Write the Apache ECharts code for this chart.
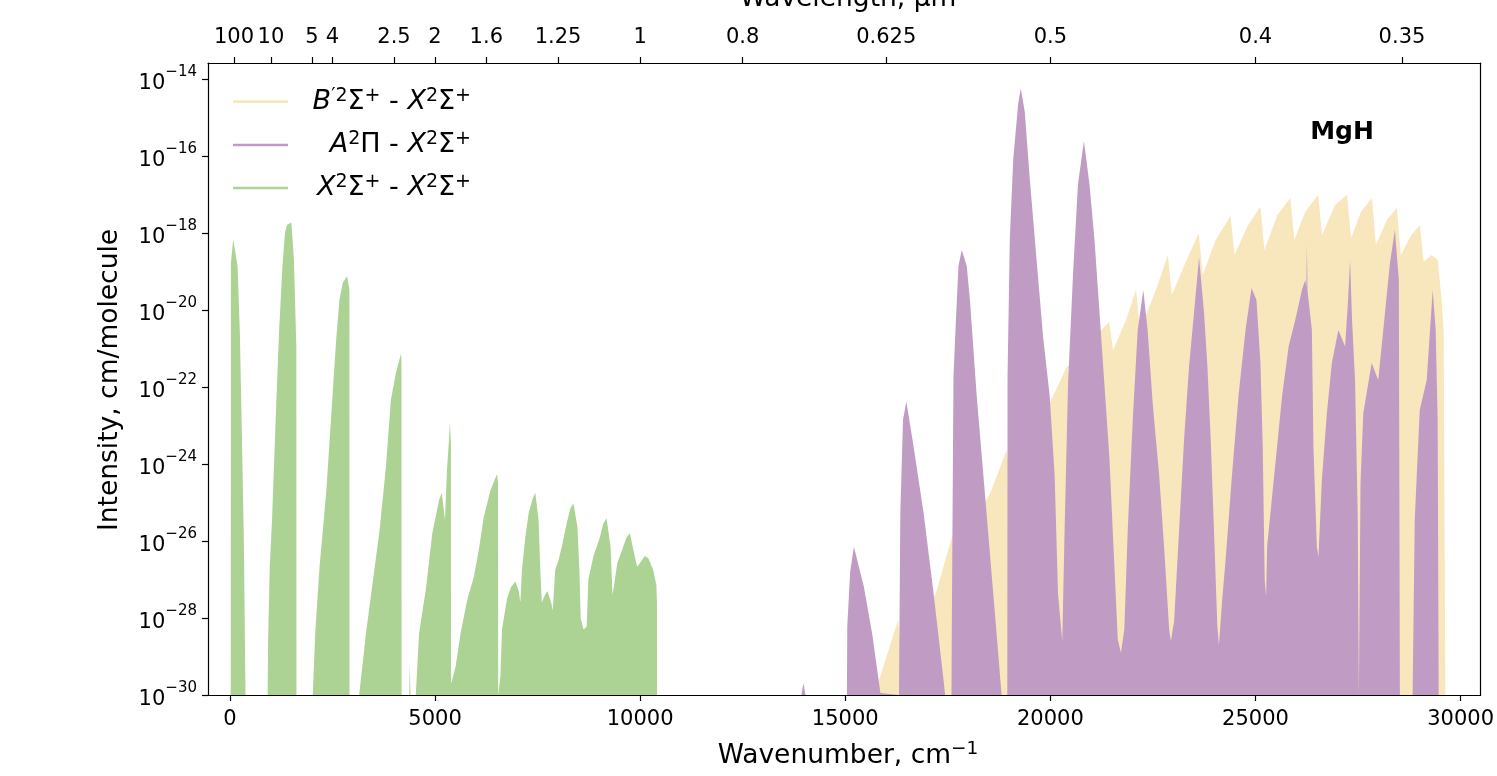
<!DOCTYPE html>
<html><head><meta charset="utf-8">
<script src="https://cdn.jsdelivr.net/npm/echarts@6/dist/echarts.min.js"></script>
<style>html,body{margin:0;padding:0;background:#fff}#c{width:1497px;height:776px}</style>
</head><body><div id="c"></div>
<script>
// ---- data: [wavenumber cm^-1, log10(intensity cm/molecule)] (band envelopes) ----
const greenBands = [
  [[20,-30],[24,-18.78],[80,-18.16],[109,-18.18],[187,-18.87],[243,-20.6],[299,-23.64],[340,-25.97],[364,-28.39],[381,-30]],
  [[920,-30],[930,-28.65],[971,-26.68],[1027,-25.45],[1068,-24.23],[1133,-22.34],[1197,-20.6],[1279,-18.88],[1342,-18.0],[1391,-17.79],[1498,-17.73],[1561,-18.7],[1619,-20.96],[1622,-30]],
  [[2020,-30],[2080,-28.39],[2184,-26.68],[2347,-24.75],[2468,-22.78],[2590,-20.78],[2670,-19.74],[2750,-19.3],[2857,-19.12],[2913,-19.48],[2916,-30]],
  [[3150,-30],[3318,-28.39],[3478,-27.09],[3641,-25.79],[3803,-24.08],[3924,-22.34],[4046,-21.64],[4167,-21.14],[4182,-21.3],[4185,-30]],
  [[4370,-30],[4386,-29.2],[4400,-30]],
  [[4531,-30],[4612,-28.39],[4774,-27.27],[4935,-25.79],[5097,-24.94],[5163,-24.75],[5243,-25.45],[5291,-24.16],[5340,-23.38],[5364,-22.91],[5388,-23.5],[5390,-29.5],
   [5396,-29.7],[5502,-29.26],[5624,-28.39],[5784,-27.53],[5947,-26.93],[6068,-26.23],[6189,-25.37],[6352,-24.68],[6512,-24.26],[6536,-24.5],[6540,-30]],
  [[6560,-30],[6595,-29.5],[6633,-28.3],[6755,-27.5],[6850,-27.2],[6959,-27.05],[7040,-27.3],[7080,-27.6],[7119,-26.75],[7201,-25.9],[7282,-25.28],[7380,-24.9],[7444,-24.75],[7524,-25.45],[7566,-26.75],[7604,-27.6],[7680,-27.4],[7743,-27.3],[7830,-27.6],[7871,-27.8],[7930,-26.75],[8010,-26.5],[8090,-26.15],[8211,-25.53],[8300,-25.15],[8374,-25.02],[8471,-25.63],[8519,-26.75],[8551,-28.0],[8620,-28.3],[8697,-28.23],[8738,-27.0],[8859,-26.41],[9022,-25.89],[9100,-25.55],[9182,-25.41],[9279,-26.15],[9328,-27.4],[9386,-27.0],[9442,-26.58],[9587,-26.15],[9670,-25.9],[9750,-25.8],[9871,-26.41],[9927,-26.67],[9993,-26.58],[10114,-26.39],[10200,-26.45],[10316,-26.75],[10396,-27.14],[10410,-27.6],[10413,-30]]
];
const purpleBands = [
  [[13930,-30],[13981,-29.69],[14030,-30]],
  [[15040,-30],[15049,-28.23],[15120,-26.8],[15211,-26.15],[15454,-27.19],[15655,-28.4],[15857,-29.95],[15870,-30]],
  [[16310,-30],[16318,-28.75],[16342,-25.28],[16408,-22.86],[16488,-22.38],[16667,-23.55],[16910,-25.28],[17153,-27.36],[17396,-29.61],[17434,-30]],
  [[17590,-30],[17597,-28.3],[17638,-21.72],[17701,-20.18],[17760,-18.85],[17840,-18.44],[17961,-18.85],[18042,-19.77],[18204,-22.23],[18367,-24.29],[18527,-26.34],[18689,-28.4],[18811,-30]],
  [[18950,-30],[18956,-21.72],[19012,-18.13],[19095,-16.08],[19216,-14.64],[19279,-14.25],[19376,-14.85],[19498,-16.59],[19660,-18.65],[19823,-20.7],[19983,-22.23],[20104,-24.29],[20187,-27.37],
   [20290,-28.6],
   [20347,-25.71],[20430,-21.94],[20551,-19.1],[20672,-16.74],[20818,-15.61],[20954,-16.74],[21075,-18.16],[21197,-20.05],[21318,-21.94],[21439,-23.83],[21561,-26.66],[21643,-28.55],
   [21720,-28.9],
   [21803,-28.3],[21886,-25.71],[22007,-22.88],[22129,-20.52],[22265,-19.48],[22371,-20.52],[22493,-22.41],[22653,-24.3],[22774,-26.18],[22896,-28.3],
   [22937,-28.6],
   [23017,-28.08],[23138,-25.71],[23260,-23.35],[23381,-21.46],[23503,-20.05],[23624,-18.63],[23745,-20.05],[23828,-21.46],[23908,-23.35],[23988,-25.71],[24070,-28.2],
   [24109,-28.7],
   [24190,-27.5],[24272,-26.49],[24418,-24.41],[24588,-22.21],[24757,-20.52],[24903,-19.43],[25024,-19.74],[25121,-21.38],[25177,-23.55],[25225,-27.01],[25259,-27.44],
   [25283,-26.15],[25404,-24.85],[25526,-23.55],[25647,-22.25],[25808,-20.95],[25969,-20.26],[26132,-19.48],[26212,-19.22],[26240,-19.4],[26253,-18.27],[26268,-19.5],[26375,-20.52],[26413,-23.55],[26496,-26.15],[26535,-26.41],
   [26618,-24.41],[26740,-22.68],[26861,-21.38],[27021,-20.52],[27184,-20.95],[27257,-19.74],[27306,-18.7],[27354,-20.26],[27427,-21.82],[27492,-25.28],[27520,-30]],
  [[27545,-30],[27560,-24.5],[27628,-22.68],[27832,-21.38],[27992,-21.82],[28155,-20.09],[28276,-18.79],[28398,-17.92],[28495,-19.22],[28520,-30]],
  [[28830,-30],[28882,-25.45],[29004,-22.6],[29174,-21.82],[29320,-19.48],[29393,-20.52],[29441,-22.86],[29466,-30]]
];
const yellowBands = [
  [[15728,-30],[15825,-29.61],[16019,-28.96],[16286,-28.05],[16335,-28.57],[16990,-27.92],[17233,-27.27],[17597,-25.9],[18083,-25.5],[18519,-24.8],[18932,-23.64],[19004,-24.16],[19903,-22.6],[20388,-21.51],[20874,-20.91],[21432,-20.31],[21529,-21.04],[21845,-20.26],[22087,-19.48],[22184,-20.52],[22572,-19.48],[22864,-18.57],[22961,-19.61],[23301,-18.75],[23617,-18.0],[23714,-19.09],[24029,-18.18],[24393,-17.56],[24490,-18.57],[24806,-17.82],[25121,-17.32],[25218,-18.44],[25534,-17.53],[25850,-17.09],[25947,-18.18],[26212,-17.45],[26527,-17.01],[26624,-18.05],[26940,-17.27],[27232,-17.01],[27330,-18.13],[27572,-17.45],[27839,-17.09],[27936,-18.31],[28203,-17.66],[28446,-17.35],[28543,-18.57],[28786,-18.08],[29004,-17.79],[29101,-18.75],[29295,-18.57],[29441,-18.7],[29538,-19.74],[29587,-20.52],[29628,-30]]
];
// tick labels
const xTickValues = [0, 5000, 10000, 15000, 20000, 25000, 30000];
const wavelengthTicks = [100, 10, 5, 4, 2.5, 2, 1.6, 1.25, 1, 0.8, 0.625, 0.5, 0.4, 0.35];
const yTickExponents = [-30, -28, -26, -24, -22, -20, -18, -16, -14];

const FONT = 'DejaVu Sans';
const C_YEL = '#f8e7bd', C_PUR = '#c09cc4', C_GRN = '#acd394';
const toData = bands => { const o = []; bands.forEach(b => b.forEach(p => o.push([p[0], Math.pow(10, p[1])]))); return o; };
const topPos = wavelengthTicks.map(w => 10000 / w);

const XMIN = -534, XMAX = 30490;
const areaSeries = (name, bands, color) => ({
  name, type: 'line', data: toData(bands), symbol: 'none', showSymbol: false, smooth: false,
  lineStyle: { opacity: 0, width: 0 }, areaStyle: { color, opacity: 1, origin: 'start' },
  silent: true, animation: false, clip: true, xAxisIndex: 0, yAxisIndex: 0
});

const LF = 27, LS = 19; // legend font / superscript
const legRich = {
  i: { fontFamily: FONT, fontSize: LF, fontStyle: 'italic', fill: '#000' },
  n: { fontFamily: FONT, fontSize: LF, fill: '#000' },
  s: { fontFamily: FONT, fontSize: LS, fill: '#000', padding: [0, 0, 12, 0] }
};
const legendTexts = [
  '{i|B}{s|′2}{n|Σ}{s|+}{n| - }{i|X}{s|2}{n|Σ}{s|+}',
  '{i|A}{s|2}{n|Π - }{i|X}{s|2}{n|Σ}{s|+}',
  '{i|X}{s|2}{n|Σ}{s|+}{n| - }{i|X}{s|2}{n|Σ}{s|+}'
];
const legendColors = [C_YEL, C_PUR, C_GRN];
const legendY = [101.7, 145, 188];
const legendGraphics = [];
legendTexts.forEach((t, k) => {
  legendGraphics.push({ type: 'line', shape: { x1: 233, y1: legendY[k], x2: 288, y2: legendY[k] }, style: { stroke: legendColors[k], lineWidth: 2.7 } });
  legendGraphics.push({ type: 'text', x: 471, y: legendY[k], style: { text: t, align: 'right', verticalAlign: 'middle', rich: legRich } });
});

const chart = echarts.init(document.getElementById('c'), null, { renderer: 'canvas' });
const axisCol = '#000';
chart.setOption({
  animation: false,
  backgroundColor: '#fff',
  textStyle: { fontFamily: FONT },
  grid: { left: 208, right: 10, top: 63, bottom: 81, containLabel: false },
  xAxis: [
    { type: 'value', min: XMIN, max: XMAX, position: 'bottom', z: 5,
      axisLine: { show: true, onZero: false, lineStyle: { color: axisCol, width: 1.2 } },
      axisTick: { show: true, inside: false, length: 6, customValues: xTickValues, lineStyle: { color: axisCol, width: 1.2 } },
      axisLabel: { customValues: xTickValues, formatter: v => String(Math.round(v)), fontFamily: FONT, fontSize: 21, color: '#000', margin: 14 },
      splitLine: { show: false } },
    { type: 'value', min: XMIN, max: XMAX, position: 'top', z: 5,
      axisLine: { show: true, onZero: false, lineStyle: { color: axisCol, width: 1.2 } },
      axisTick: { show: true, inside: false, length: 6, customValues: topPos, lineStyle: { color: axisCol, width: 1.2 } },
      axisLabel: { customValues: topPos, hideOverlap: false, fontFamily: FONT, fontSize: 21, color: '#000', margin: 15,
        formatter: v => { let bi = 0, bd = Infinity; topPos.forEach((p, i) => { const d = Math.abs(p - v); if (d < bd) { bd = d; bi = i; } }); return String(wavelengthTicks[bi]); } },
      splitLine: { show: false } }
  ],
  yAxis: [
    { type: 'log', logBase: 10, min: 1e-30, max: 2.6e-14, position: 'left', z: 5,
      axisLine: { show: true, onZero: false, lineStyle: { color: axisCol, width: 1.2 } },
      axisTick: { show: true, inside: false, length: 6, customValues: yTickExponents.map(e => Math.pow(10, e)), lineStyle: { color: axisCol, width: 1.2 } },
      axisLabel: { customValues: yTickExponents.map(e => Math.pow(10, e)), margin: 11,
        formatter: v => '{b|10}{s|−' + Math.abs(Math.round(Math.log10(v))) + '}',
        rich: {
          b: { fontFamily: FONT, fontSize: 21, color: '#000', padding: [9, 0, 0, 0] },
          s: { fontFamily: FONT, fontSize: 15, color: '#000', padding: [0, 0, 13, 0] }
        } },
      splitLine: { show: false } },
    { type: 'value', min: 0, max: 1, position: 'right', z: 5,
      axisLine: { show: true, onZero: false, lineStyle: { color: axisCol, width: 1.2 } },
      axisTick: { show: false }, axisLabel: { show: false }, splitLine: { show: false } }
  ],
  series: [
    areaSeries('B′²Σ⁺ - X²Σ⁺', yellowBands, C_YEL),
    areaSeries('A²Π - X²Σ⁺', purpleBands, C_PUR),
    areaSeries('X²Σ⁺ - X²Σ⁺', greenBands, C_GRN)
  ],
  graphic: [
    { type: 'text', x: 848, y: -1, style: { text: 'Wavelength, μm', font: '26.5px "DejaVu Sans"', fill: '#000', align: 'center', verticalAlign: 'middle' } },
    { type: 'text', x: 848, y: 756, style: { text: '{n|Wavenumber, cm}{s|−1}', align: 'center', verticalAlign: 'middle',
        rich: { n: { fontFamily: FONT, fontSize: 26.5, fill: '#000' }, s: { fontFamily: FONT, fontSize: 18.5, fill: '#000', padding: [0, 0, 13, 0] } } } },
    { type: 'text', x: 110, y: 380, rotation: Math.PI / 2, style: { text: 'Intensity, cm/molecule', font: '26.5px "DejaVu Sans"', fill: '#000', align: 'center', verticalAlign: 'middle' } },
    { type: 'text', x: 1342, y: 132, style: { text: 'MgH', font: 'bold 25px "DejaVu Sans"', fill: '#000', align: 'center', verticalAlign: 'middle' } }
  ].concat(legendGraphics)
});
</script></body></html>
